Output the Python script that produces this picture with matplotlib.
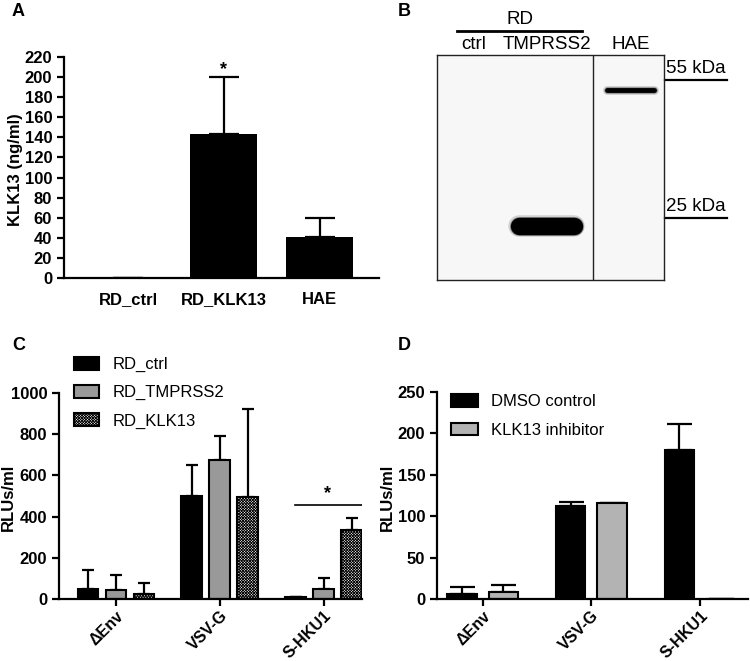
import numpy as np
import matplotlib
matplotlib.use("Agg")
import matplotlib.pyplot as plt

plt.rcParams['font.family'] = ['Liberation Sans', 'DejaVu Sans']
plt.rcParams['hatch.linewidth'] = 0.6

# panel A - ELISA
a_cats = ['RD_ctrl', 'RD_KLK13', 'HAE']
a_vals = [0, 143, 41]
a_err = [0, 57, 19]

# panel B - western blot
blot_lanes = ['ctrl', 'TMPRSS2', 'HAE']
band_kda = [np.nan, 23.9, 52]
marker_kda = [55, 25]

# panel C - transduction of RD cells
c_cats = ['\u0394Env', 'VSV-G', 'S-HKU1']
c_ctrl = [48, 498, 8]
c_ctrl_err = [94, 154, 4]
c_tmp = [42, 676, 48]
c_tmp_err = [76, 114, 54]
c_klk = [26, 493, 333]
c_klk_err = [52, 429, 59]

# panel D - inhibitor
d_dmso = [6.5, 112.7, 179.6]
d_dmso_err = [8, 4.5, 31.5]
d_inh = [8, 116.3, 0.5]
d_inh_err = [9.3, 0, 0]

fig = plt.figure(figsize=(7.5, 6.61), dpi=100)
W, H = 750.0, 661.0

def axes_px(l, t, r, b):
    return fig.add_axes([l / W, 1 - b / H, (r - l) / W, (b - t) / H])

def style(ax):
    for s in ['top', 'right']:
        ax.spines[s].set_visible(False)
    for s in ['left', 'bottom']:
        ax.spines[s].set_linewidth(1.6)
    ax.tick_params(width=1.6, length=5, labelsize=12)
    for lab in ax.get_yticklabels() + ax.get_xticklabels():
        lab.set_fontweight('bold')

def up_err(ax, x, y, e, cap):
    ax.errorbar(x, y, yerr=[np.zeros(len(e)), e], fmt='none', ecolor='black',
                elinewidth=1.6, capsize=cap, capthick=1.6, zorder=1)

# ---------- A ----------
axA = axes_px(64, 57, 379, 278)
xa = np.arange(len(a_cats))
up_err(axA, xa, a_vals, a_err, 11)
axA.bar(xa, a_vals, width=0.7, color='black', zorder=2)
axA.set_xlim(-0.67, 2.62)
axA.set_ylim(0, 220)
axA.set_yticks(np.arange(0, 221, 20))
axA.set_xticks(xa)
axA.set_xticklabels(a_cats)
style(axA)
axA.tick_params(axis='x', length=0, pad=10)
axA.set_ylabel('KLK13 (ng/ml)', fontsize=12, fontweight='bold')
axA.yaxis.set_label_coords(-0.13, 0.49)
axA.text(1, 199, '*', ha='center', va='bottom', fontsize=13, fontweight='bold')

# ---------- B ----------
axB = axes_px(437, 55, 664, 280)
axB.set_facecolor('#f7f7f7')
axB.set_xlim(0, 3)
axB.set_yscale('log')
axB.set_ylim(17.5, 63.4)
axB.set_xticks([])
axB.set_yticks([])
axB.minorticks_off()
for s in axB.spines.values():
    s.set_linewidth(1.0)
    s.set_color('#222222')
lane_x = [0.48, 1.45, 2.56]
band_half = [0.3, 0.36, 0.31]
band_lw = [4, 12.5, 3.5]
for i in range(len(blot_lanes)):
    if np.isnan(band_kda[i]):
        continue
    xs = [lane_x[i] - band_half[i], lane_x[i] + band_half[i]]
    ys = [band_kda[i], band_kda[i]]
    axB.plot(xs, ys, color='black', lw=band_lw[i] + 3, alpha=0.15, solid_capstyle='round')
    axB.plot(xs, ys, color='black', lw=band_lw[i] + 1.2, alpha=0.35, solid_capstyle='round')
    axB.plot(xs, ys, color='black', lw=band_lw[i], solid_capstyle='round')
axB.axvline(2.06, color='#222222', lw=1.0)
for k in marker_kda:
    axB.plot([3.01, 3.83], [k, k], color='black', lw=1.6, clip_on=False)
    axB.text(3.03, k * 1.015, '%d kDa' % k, ha='left', va='bottom', fontsize=13.5)
for i, lane in enumerate(blot_lanes):
    axB.text(lane_x[i] / 3.0, 1.01, lane, transform=axB.transAxes,
             ha='center', va='bottom', fontsize=13.5)
axB.plot([0.088, 0.639], [1.107, 1.107], transform=axB.transAxes, color='black',
         lw=2, clip_on=False)
axB.text(0.366, 1.122, 'RD', transform=axB.transAxes, ha='center', va='bottom',
         fontsize=13.5)

# ---------- C ----------
axC = axes_px(59, 393, 362, 599)
xc = np.arange(len(c_cats))
off = 0.27
bw = 0.2
up_err(axC, xc - off, c_ctrl, c_ctrl_err, 4.5)
up_err(axC, xc, c_tmp, c_tmp_err, 4.5)
up_err(axC, xc + off, c_klk, c_klk_err, 4.5)
axC.bar(xc - off, c_ctrl, width=bw, color='black', edgecolor='black', lw=1.5,
        label='RD_ctrl', zorder=2)
axC.bar(xc, c_tmp, width=bw, color='#999999', edgecolor='black', lw=1.5,
        label='RD_TMPRSS2', zorder=2)
axC.bar(xc + off, c_klk, width=bw, color='white', edgecolor='black', lw=1.5,
        hatch='xxxxxxxxxxxx', label='RD_KLK13', zorder=2)
axC.set_xlim(-0.55, 2.37)
axC.set_ylim(0, 1000)
axC.set_yticks(np.arange(0, 1001, 200))
axC.set_xticks(xc)
axC.set_xticklabels(c_cats, rotation=45, ha='right', rotation_mode='anchor')
style(axC)
axC.tick_params(axis='x', pad=1.5, labelsize=11.5)
axC.set_ylabel('RLUs/ml', fontsize=12, fontweight='bold')
axC.yaxis.set_label_coords(-0.142, 0.495)
axC.plot([1.72, 2.37], [455, 455], color='black', lw=1.2)
axC.text(2.04, 470, '*', ha='center', va='bottom', fontsize=13, fontweight='bold')
axC.legend(loc='upper left', bbox_to_anchor=(0.05, 1.175), frameon=False,
           fontsize=12, handlelength=1.5, handleheight=0.8, handletextpad=0.8,
           labelspacing=0.77, borderpad=0, borderaxespad=0)

# ---------- D ----------
axD = axes_px(437, 392, 748, 599)
xd = np.arange(len(c_cats))
offd = 0.19
bwd = 0.27
up_err(axD, xd - offd, d_dmso, d_dmso_err, 9)
up_err(axD, xd + offd, d_inh, d_inh_err, 9)
axD.bar(xd - offd, d_dmso, width=bwd, color='black', edgecolor='black', lw=1.5,
        label='DMSO control', zorder=2)
axD.bar(xd + offd, d_inh, width=bwd, color='#b3b3b3', edgecolor='black', lw=1.5,
        label='KLK13 inhibitor', zorder=2)
axD.set_xlim(-0.42, 2.44)
axD.set_ylim(0, 250)
axD.set_yticks(np.arange(0, 251, 50))
axD.set_xticks(xd)
axD.set_xticklabels(c_cats, rotation=45, ha='right', rotation_mode='anchor')
style(axD)
axD.tick_params(axis='x', pad=1.5, labelsize=11.5)
axD.set_ylabel('RLUs/ml', fontsize=12, fontweight='bold')
axD.yaxis.set_label_coords(-0.135, 0.49)
axD.legend(loc='upper left', bbox_to_anchor=(0.045, 0.99), frameon=False,
           fontsize=12, handlelength=1.6, handleheight=0.8, handletextpad=0.8,
           labelspacing=0.8, borderpad=0, borderaxespad=0)

# panel letters
for lab, x, y in [('A', 12, 12), ('B', 398, 12), ('C', 12, 345), ('D', 398, 345)]:
    fig.text(x / W, 1 - y / H, lab, fontsize=13, fontweight='bold', ha='left', va='center')

fig.savefig('out.png', dpi=100)
